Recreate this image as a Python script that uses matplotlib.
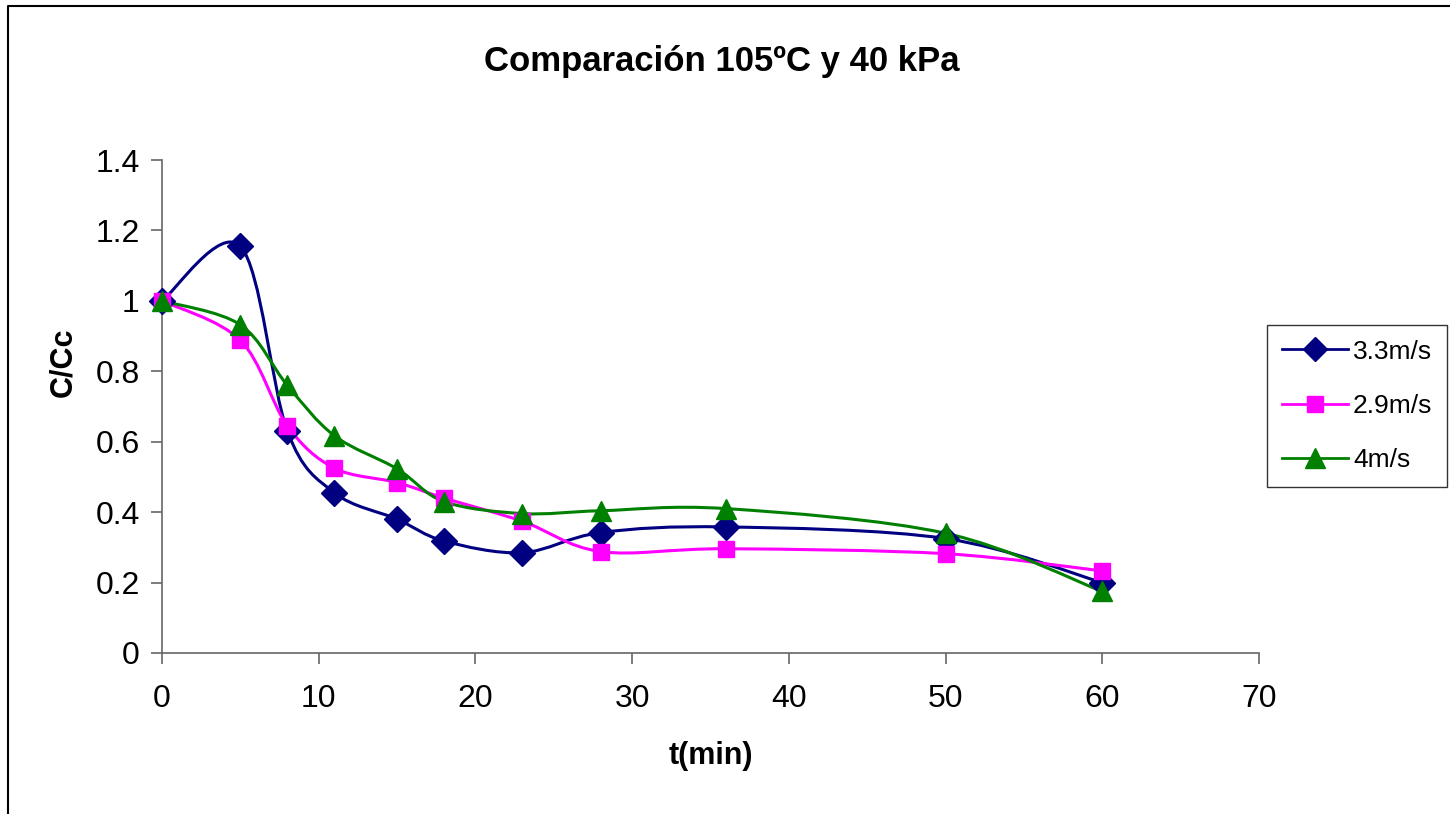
import matplotlib
matplotlib.use("Agg")
import matplotlib.pyplot as plt
import numpy as np
from matplotlib.path import Path
from matplotlib.patches import PathPatch
from matplotlib.lines import Line2D

plt.rcParams['font.family'] = ['Liberation Sans', 'DejaVu Sans']

title = "Comparación 105ºC y 40 kPa"
x_label = "t(min)"
y_label = "C/Cc"

t = [0, 5, 8, 11, 15, 18, 23, 28, 36, 50, 60]
v33 = [1.0, 1.155, 0.63, 0.455, 0.38, 0.318, 0.285, 0.342, 0.358, 0.325, 0.200]
v29 = [1.0, 0.888, 0.645, 0.525, 0.484, 0.44, 0.374, 0.288, 0.296, 0.282, 0.233]
v40 = [1.0, 0.932, 0.76, 0.617, 0.523, 0.43, 0.396, 0.404, 0.41, 0.34, 0.175]
labels = ["3.3m/s", "2.9m/s", "4m/s"]
colors = ["#000080", "#FF00FF", "#008000"]
markers = ["D", "s", "^"]
msizes = [13, 12, 15]
x_ticks = [0, 10, 20, 30, 40, 50, 60, 70]
y_ticks = [0, 0.2, 0.4, 0.6, 0.8, 1.0, 1.2, 1.4]
y_ticklabels = ["0", "0.2", "0.4", "0.6", "0.8", "1", "1.2", "1.4"]


def smooth_path(xs, ys):
    p = np.column_stack([xs, ys]).astype(float)
    n = len(p)
    verts = [p[0]]
    codes = [Path.MOVETO]
    for i in range(n - 1):
        p_prev = p[i - 1] if i > 0 else p[i]
        p_next2 = p[i + 2] if i + 2 < n else p[i + 1]
        c1 = p[i] + (p[i + 1] - p_prev) / 6.0
        c2 = p[i + 1] - (p_next2 - p[i]) / 6.0
        verts += [c1, c2, p[i + 1]]
        codes += [Path.CURVE4] * 3
    return Path(verts, codes)


fig = plt.figure(figsize=(14.5, 8.14), dpi=100)
ax = fig.add_axes([162 / 1450, 1 - 653 / 814, (1259 - 162) / 1450, (653 - 160) / 814])

handles = []
for vals, lab, col, mk, ms in zip([v33, v29, v40], labels, colors, markers, msizes):
    patch = PathPatch(smooth_path(t, vals), facecolor='none', edgecolor=col,
                      lw=2.2, zorder=2)
    ax.add_patch(patch)
    ax.plot(t, vals, linestyle='none', marker=mk, ms=ms, color=col,
            markeredgecolor=col, zorder=3, clip_on=False)
    handles.append(Line2D([], [], color=col, lw=2.0, marker=mk, ms=ms - 1,
                          markeredgecolor=col))

ax.set_xlim(0, 70)
ax.set_ylim(0, 1.4)
ax.set_xticks(x_ticks)
ax.set_xticklabels([str(v) for v in x_ticks])
ax.set_yticks(y_ticks)
ax.set_yticklabels(y_ticklabels)
for s in ['top', 'right']:
    ax.spines[s].set_visible(False)
for s in ['left', 'bottom']:
    ax.spines[s].set_color('#666666')
    ax.spines[s].set_linewidth(1.2)
ax.tick_params(axis='both', direction='out', length=8, width=1.2,
               color='#666666', labelsize=23, labelcolor='black')
ax.tick_params(axis='x', pad=14)
ax.tick_params(axis='y', pad=8)

ax.set_xlabel(x_label, fontsize=22, fontweight='bold', labelpad=20)
ax.set_ylabel(y_label, fontsize=22, fontweight='bold')
ax.yaxis.set_label_coords(78 / 1450, 1 - 362 / 814, transform=fig.transFigure)

fig.text(722 / 1450, 1 - 62 / 814, title, ha='center', va='center',
         fontsize=25, fontweight='bold')

leg = fig.legend(handles, labels, loc='upper right',
                 bbox_to_anchor=(1447 / 1450, 1 - 325 / 814),
                 fontsize=19, frameon=True, fancybox=False, handlelength=2.5,
                 labelspacing=1.15, borderpad=0.55, handletextpad=0.2,
                 borderaxespad=0)
leg.get_frame().set_edgecolor('black')
leg.get_frame().set_linewidth(1.0)

# outer chart frame (left and top edges visible)
fig.add_artist(Line2D([8 / 1450, 8 / 1450, 1.0], [0.0, 1 - 6 / 814, 1 - 6 / 814],
                      transform=fig.transFigure, color='black', lw=1.5))

fig.savefig("out.png", dpi=100)
